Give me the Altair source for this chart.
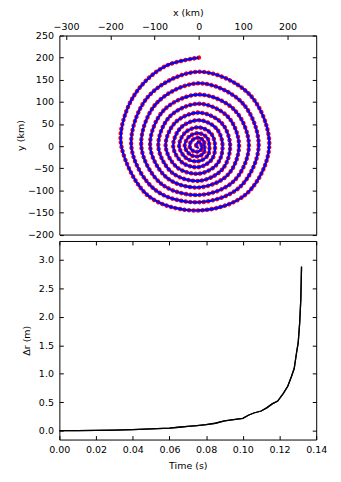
import altair as alt
import pandas as pd

# Spiral path (km), read every eighth of a turn (first quarter every sixteenth), in path order
spiral_x = [0, -75.0, -132.9, -167.2, -175, -113.3, 0, 107.7, 159, 115.6,
            0, -113.3, -152.5, -98.8, 0, 92.6, 135, 97.9,
            0, -96.2, -130, -85.1, 0, 79.1, 113, 81.1,
            0, -80.1, -110, -71.9, 0, 65.2, 90.8, 66.0,
            0, -66.2, -91.5, -60.2, 0, 52.8, 70.7, 51.8,
            0, -53.3, -75, -48.6, 0, 41.0, 53.6, 39.7,
            0, -41.2, -58, -37.3, 0, 29.7, 36.5, 27.9,
            0, -30.7, -44.6, -27.8, 0, 20.4, 23.8, 18.7,
            0, -21.6, -32, -19.4, 0, 12.6, 12.6, 11.2,
            0, -14.1, -21, -11.7, 0, 6.4, 6, 5.3,
            0, -5.3, -6, -3.2, 0]
spiral_y = [200, 181.1, 132.9, 69.3, 0, -113.3, -145.5, -107.7, 0, 115.6,
            168, 113.3, 0, -98.8, -127, -92.6, 0, 97.9,
            142, 96.2, 0, -85.1, -110.6, -79.1, 0, 81.1,
            116.5, 80.1, 0, -71.9, -93.5, -65.2, 0, 66.0,
            95.8, 66.2, 0, -60.2, -78.7, -52.8, 0, 51.8,
            75.7, 53.3, 0, -48.6, -62.4, -41.0, 0, 39.7,
            58.6, 41.2, 0, -37.3, -47.5, -29.7, 0, 27.9,
            42.3, 30.7, 0, -27.8, -34, -20.4, 0, 18.7,
            29, 21.6, 0, -19.4, -23, -12.6, 0, 11.2,
            19, 14.1, 0, -11.7, -12, -6.4, 0, 5.3,
            9, 5.3, 0, -3.2, -3]

# Delta r vs time
time_s = [0, 0.01, 0.02, 0.03, 0.04, 0.05, 0.06, 0.065, 0.07, 0.075, 0.08, 0.085,
          0.09, 0.095, 0.10, 0.103, 0.106, 0.11, 0.113, 0.116, 0.119, 0.122, 0.1245,
          0.1265, 0.128, 0.1292, 0.1302, 0.131, 0.1316, 0.132]
dr_m = [0, 0.002, 0.005, 0.01, 0.017, 0.03, 0.046, 0.06, 0.075, 0.09, 0.105, 0.13,
        0.17, 0.195, 0.215, 0.27, 0.31, 0.345, 0.4, 0.47, 0.52, 0.65, 0.78, 0.95,
        1.09, 1.35, 1.55, 1.9, 2.3, 2.88]

x_ticks = [-300, -200, -100, 0, 100, 200]
y_ticks = [-200, -150, -100, -50, 0, 50, 100, 150, 200, 250]
t_ticks = [0, 0.02, 0.04, 0.06, 0.08, 0.10, 0.12, 0.14]
dr_ticks = [0, 0.5, 1.0, 1.5, 2.0, 2.5, 3.0]

spiral = pd.DataFrame({"x": spiral_x, "y": spiral_y, "i": list(range(len(spiral_x)))})
drdf = pd.DataFrame({"t": time_s, "dr": dr_m})

FONT = "DejaVu Sans"
FS = 9.6


def ax(**kw):
    base = dict(domain=False, grid=False, offset=-4, tickSize=4, tickColor="black",
                tickWidth=1, labelColor="black", labelFont=FONT, labelFontSize=FS,
                titleFont=FONT, titleFontSize=FS, titleFontWeight="normal",
                titleColor="black", labelPadding=5, labelFlush=False, labelOverlap=False)
    base.update(kw)
    return alt.Axis(**base)


sx = alt.Scale(domain=[-315, 265], nice=False, zero=False)
sy = alt.Scale(domain=[-200, 250], nice=False, zero=False)

red = alt.Chart(spiral).mark_line(
    color="red", strokeWidth=4.6, strokeDash=[0.01, 4.6], strokeCap="round",
    interpolate="catmull-rom"
).encode(
    x=alt.X("x:Q", scale=sx, axis=ax(orient="top", values=x_ticks, title="x (km)",
                                     titlePadding=4, labelPadding=4.5)),
    y=alt.Y("y:Q", scale=sy, axis=ax(orient="left", values=y_ticks, title="y (km)",
                                     titlePadding=2, labelPadding=6)),
    order="i:Q",
)
blue = alt.Chart(spiral).mark_line(
    color="blue", strokeWidth=2.2, interpolate="catmull-rom"
).encode(
    x=alt.X("x:Q", scale=sx, axis=None),
    y=alt.Y("y:Q", scale=sy, axis=ax(orient="right", values=y_ticks, labels=False, title="")),
    order="i:Q",
)
top = alt.layer(red, blue).resolve_axis(x="independent", y="independent").properties(
    width=260, height=201.5)

st = alt.Scale(domain=[0, 0.14], nice=False, zero=False)
sd = alt.Scale(domain=[-0.156, 3.33], nice=False, zero=False)

line1 = alt.Chart(drdf).mark_line(color="black", strokeWidth=1.3).encode(
    x=alt.X("t:Q", scale=st, axis=ax(orient="bottom", values=t_ticks, format=".2f",
                                     title="Time (s)", titlePadding=6.5)),
    y=alt.Y("dr:Q", scale=sd, axis=ax(orient="left", values=dr_ticks, format=".1f",
                                      title="Δr (m)", titlePadding=6.5, labelPadding=6)),
)
line2 = alt.Chart(drdf).mark_line(color="black", strokeWidth=1.3).encode(
    x=alt.X("t:Q", scale=st, axis=ax(orient="top", values=t_ticks, labels=False, title="")),
    y=alt.Y("dr:Q", scale=sd, axis=ax(orient="right", values=dr_ticks, labels=False, title="")),
)
bottom = alt.layer(line1, line2).resolve_axis(x="independent", y="independent").properties(
    width=260, height=201)

chart = alt.vconcat(top, bottom, spacing=0).properties(
    padding={"left": 7, "top": -4, "right": 5, "bottom": -3},
    background="white",
).configure_view(stroke="black", strokeWidth=1)

chart.save("out.html", embed_options={"renderer": "svg", "actions": False})
